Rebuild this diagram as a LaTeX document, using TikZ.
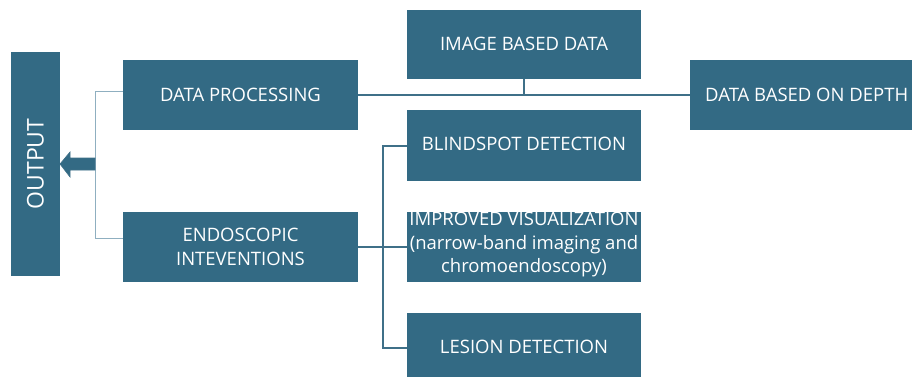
\documentclass[tikz,border=0pt]{standalone}
\usepackage{fontspec}
\setmainfont{Open Sans}
\definecolor{boxteal}{HTML}{336A84}
\definecolor{linkteal}{HTML}{3F7088}
\definecolor{bracketblue}{HTML}{8FAFC0}
\begin{document}
\begin{tikzpicture}[x=1pt,y=-1pt,
  block/.style={fill=boxteal,draw=none,text=white,inner sep=0pt,align=center,
    font=\fontsize{18.5}{24}\selectfont},
  link/.style={draw=linkteal,line width=1.1pt},
  bracket/.style={draw=bracketblue,line width=1pt}]
\useasboundingbox (0,0) rectangle (912,377);
% boxes (corner to corner)
\path[block] (11,52) rectangle (60,276);
\node[rotate=90,text=white,font=\fontsize{23}{26}\selectfont] (out) at (35.5,164) {OUTPUT};
\coordinate (outR) at (60,164);

\path[fill=boxteal] (123,60) rectangle (358,130);
\node[block] (dp) at (240.5,95) {DATA PROCESSING};
\coordinate (dpL) at (123,95); \coordinate (dpR) at (358,95);

\path[fill=boxteal] (123,212) rectangle (358,282);
\node[block] (endo) at (240.5,247) {ENDOSCOPIC\\INTEVENTIONS};
\coordinate (endoL) at (123,236); \coordinate (endoR) at (358,247);

\path[fill=boxteal] (407,10) rectangle (641,79);
\node[block] (img) at (524,44) {IMAGE BASED DATA};
\coordinate (imgB) at (524,79);

\path[fill=boxteal] (690,60) rectangle (912,130);
\node[block,anchor=west] (depth) at (705,95) {DATA BASED ON DEPTH};
\coordinate (depthL) at (690,95);

\path[fill=boxteal] (407,110) rectangle (641,181);
\node[block] (blind) at (524,144) {BLINDSPOT DETECTION};
\coordinate (blindL) at (407,146);

\path[fill=boxteal] (407,212) rectangle (641,282);
\node[block,font=\fontsize{18.5}{23.5}\selectfont] (vis) at (524,245) {IMPROVED VISUALIZATION\\(narrow-band imaging and\\chromoendoscopy)};
\coordinate (visL) at (407,247);

\path[fill=boxteal] (407,313) rectangle (641,380);
\node[block] (lesion) at (524,347) {LESION DETECTION};
\coordinate (lesionL) at (407,348);

% connectors
\draw[link] (dpR) -- (depthL);
\draw[link] (imgB) -- (524,94);
\draw[link] (endoR) -- (visL);
\draw[link] (blindL) -- (383,146) -- (383,348) -- (lesionL);

\draw[bracket] (123,92) -- (95,92) -- (95,238) -- (123,238);

% block arrow into OUTPUT
\path[fill=boxteal,draw=linkteal,line width=0.6pt]
  (95,158) -- (70,158) -- (70,152) -- (outR) -- (70,177) -- (70,170) -- (95,170) -- cycle;
\end{tikzpicture}
\end{document}
